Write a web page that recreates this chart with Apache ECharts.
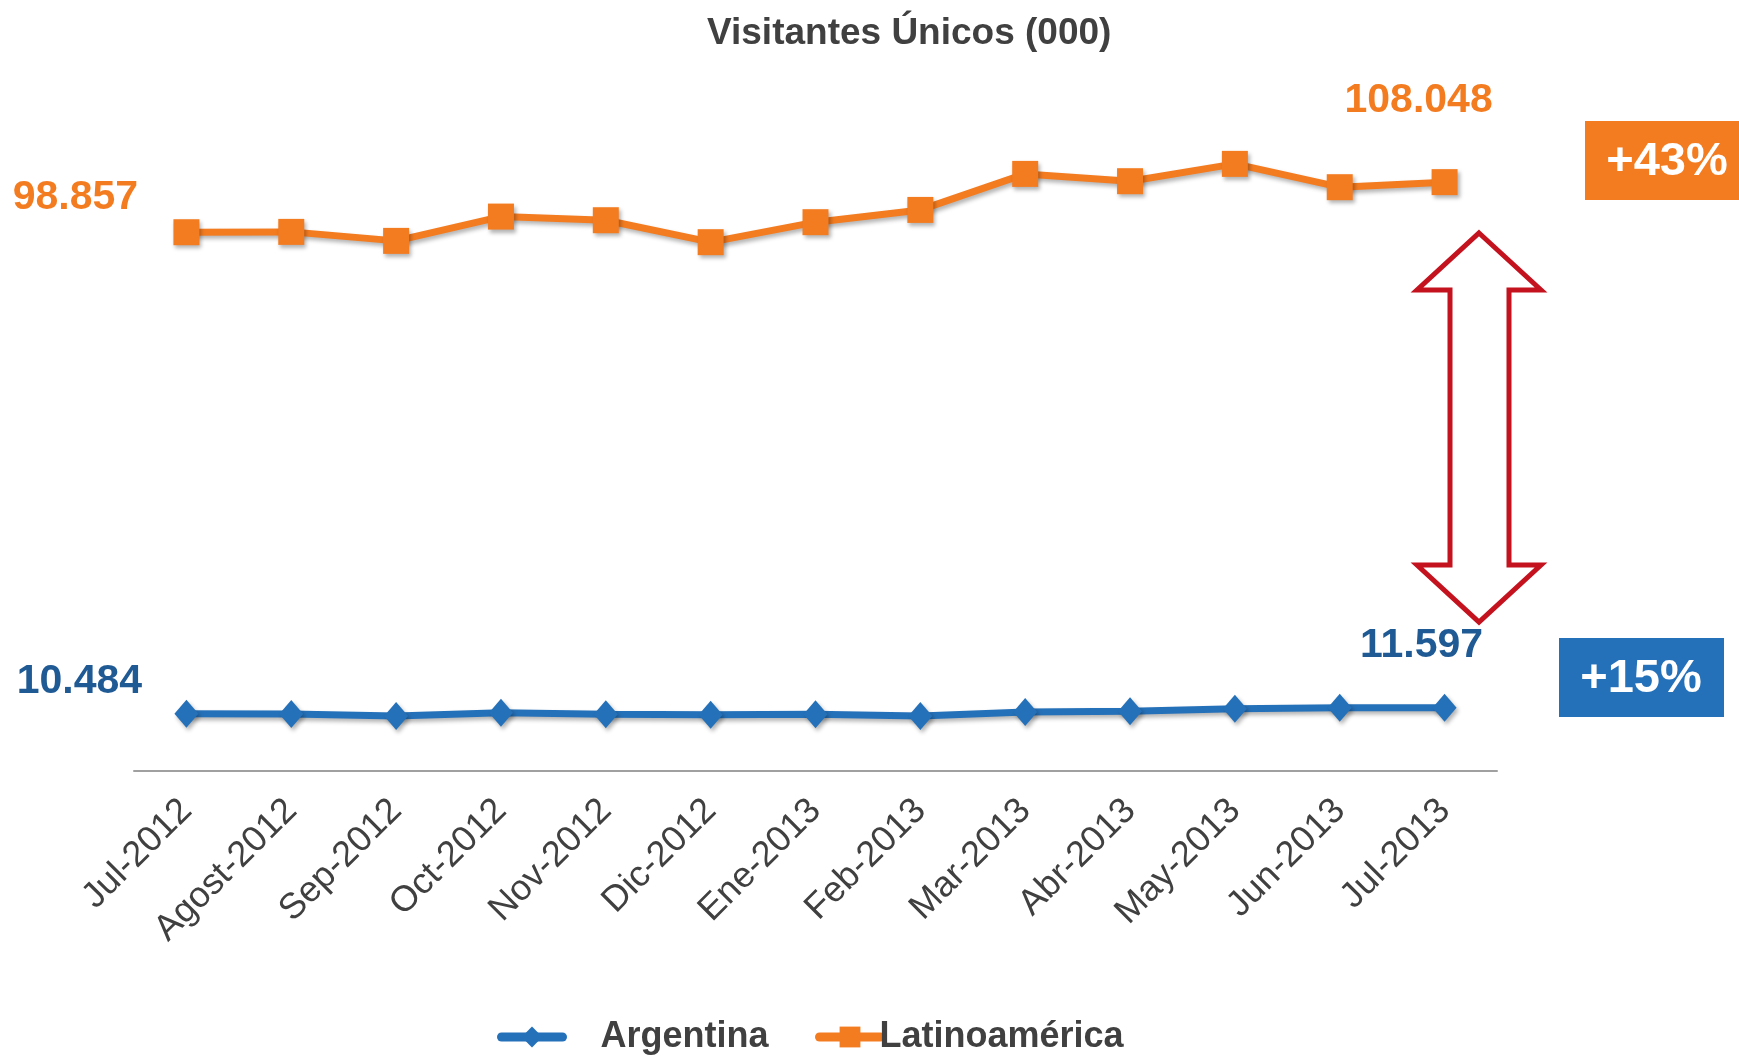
<!DOCTYPE html>
<html>
<head>
<meta charset="utf-8">
<title>Visitantes Únicos (000)</title>
<script src="https://cdn.jsdelivr.net/npm/echarts@6/dist/echarts.min.js"></script>
<style>
  html, body { margin: 0; padding: 0; background: #fff; }
  #chart { width: 1739px; height: 1056px; }
</style>
</head>
<body>
<div id="chart"></div>
<script>
const months = ['Jul-2012', 'Agost-2012', 'Sep-2012', 'Oct-2012', 'Nov-2012', 'Dic-2012',
  'Ene-2013', 'Feb-2013', 'Mar-2013', 'Abr-2013', 'May-2013', 'Jun-2013', 'Jul-2013'];
const argentina = [10.484, 10.48, 10.09, 10.70, 10.40, 10.33, 10.40, 10.09, 10.83, 10.96, 11.43, 11.62, 11.597];
const latam = [98.857, 98.92, 97.27, 101.73, 101.06, 97.03, 100.70, 102.95, 109.56, 108.22, 111.40, 107.12, 108.048];
const growthLabels = ['+43%', '+15%'];

const FONT = 'Arial, "Liberation Sans", sans-serif';
const ORANGE = '#F47C20';
const BLUE = '#2571B9';

// etiqueta sólo en el primer y último punto
function withEndLabels(values, color, firstOffset, lastOffset) {
  return values.map((v, i) => {
    if (i !== 0 && i !== values.length - 1) return v;
    return {
      value: v,
      label: {
        show: true,
        position: 'inside',
        offset: i === 0 ? firstOffset : lastOffset,
        formatter: p => p.value.toFixed(3),
        color: color,
        fontFamily: FONT,
        fontWeight: 'bold',
        fontSize: 41,
      },
    };
  });
}

const shadow = { shadowColor: 'rgba(0,0,0,0.3)', shadowBlur: 4, shadowOffsetX: 2, shadowOffsetY: 3 };

const legendBase = {
  top: 1019,
  padding: 0,
  itemWidth: 61,
  itemHeight: 26,
  lineStyle: { width: 9, cap: 'round' },
};

const myChart = echarts.init(document.getElementById('chart'));
const option = {
  animation: false,
  title: {
    text: 'Visitantes Únicos (000)',
    left: 707,
    top: 15,
    padding: 0,
    textStyle: { fontFamily: FONT, fontSize: 37, fontWeight: 'bold', color: '#404040' },
  },
  legend: [
    Object.assign({}, legendBase, {
      data: ['Argentina'],
      left: 497,
      textStyle: { fontFamily: FONT, fontSize: 36, fontWeight: 'bold', color: '#404040', padding: [0, 0, 0, 33] },
    }),
    Object.assign({}, legendBase, {
      data: ['Latinoamérica'],
      left: 815,
      textStyle: { fontFamily: FONT, fontSize: 36, fontWeight: 'bold', color: '#404040', padding: [0, 0, 0, -6] },
    }),
  ],
  grid: { left: 134, right: 242, top: 117, bottom: 285 },
  xAxis: {
    type: 'category',
    data: months,
    axisLine: { lineStyle: { color: '#A0A0A0', width: 2 } },
    axisTick: { show: false },
    axisLabel: {
      rotate: 45,
      margin: 34,
      interval: 0,
      fontFamily: FONT,
      fontSize: 36,
      color: '#404040',
    },
  },
  yAxis: { type: 'value', min: 0, max: 120, show: false },
  series: [
    {
      name: 'Argentina',
      type: 'line',
      data: withEndLabels(argentina, '#1F5A94', [-107, -32], [-23, -62]),
      symbol: 'diamond',
      symbolSize: [24, 28],
      color: BLUE,
      lineStyle: Object.assign({ width: 7, color: BLUE }, shadow),
      itemStyle: Object.assign({ color: BLUE }, shadow),
    },
    {
      name: 'Latinoamérica',
      type: 'line',
      data: withEndLabels(latam, ORANGE, [-111, -35], [-26, -81]),
      symbol: 'rect',
      symbolSize: 26,
      color: ORANGE,
      lineStyle: Object.assign({ width: 7, color: ORANGE }, shadow),
      itemStyle: Object.assign({ color: ORANGE }, shadow),
    },
  ],
  graphic: [
    // flecha doble roja
    {
      type: 'polygon',
      shape: {
        points: [[1479, 233], [1541, 290], [1509, 290], [1509, 565], [1541, 565], [1479, 622],
          [1417, 565], [1450, 565], [1450, 290], [1417, 290]],
      },
      style: { fill: '#fff', stroke: '#C4121F', lineWidth: 5 },
    },
    {
      type: 'group',
      left: 1585,
      top: 121,
      children: [
        { type: 'rect', shape: { x: 0, y: 0, width: 165, height: 79 }, style: { fill: ORANGE } },
        {
          type: 'text', x: 82, y: 41,
          style: { text: growthLabels[0], fill: '#fff', font: 'bold 47px ' + FONT, textAlign: 'center', textVerticalAlign: 'middle' },
        },
      ],
    },
    {
      type: 'group',
      left: 1559,
      top: 638,
      children: [
        { type: 'rect', shape: { x: 0, y: 0, width: 165, height: 79 }, style: { fill: BLUE } },
        {
          type: 'text', x: 82, y: 41,
          style: { text: growthLabels[1], fill: '#fff', font: 'bold 47px ' + FONT, textAlign: 'center', textVerticalAlign: 'middle' },
        },
      ],
    },
  ],
};
myChart.setOption(option);
</script>
</body>
</html>
